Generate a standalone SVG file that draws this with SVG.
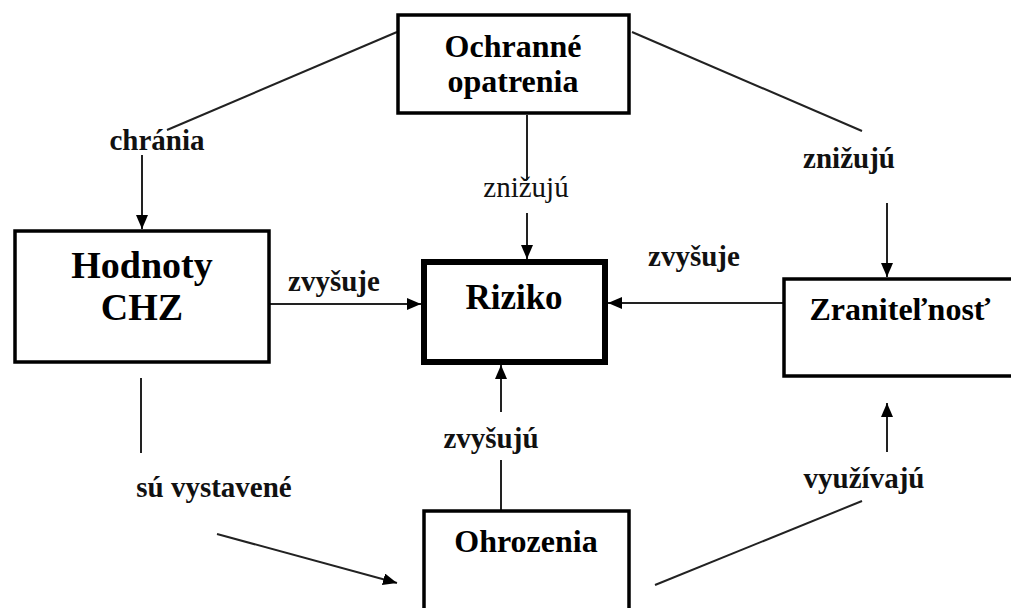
<svg xmlns="http://www.w3.org/2000/svg" width="1011" height="608" viewBox="0 0 1011 608">
<style>
.box{fill:#fff;stroke:#000;stroke-width:3.5}
.thick{stroke-width:6}
.nt{font-family:"Liberation Serif","Times New Roman",serif;font-weight:bold;fill:#000;text-anchor:middle}
.lb{font-family:"Liberation Serif","Times New Roman",serif;font-weight:bold;font-size:29px;fill:#111;text-anchor:middle}
.lr{font-weight:normal}
.ln{stroke:#222;stroke-width:2;fill:none}
</style>
<defs>
<marker id="ah" viewBox="0 0 14 12" refX="14" refY="6" markerWidth="14" markerHeight="12" orient="auto" markerUnits="userSpaceOnUse">
<path d="M0,0 L14,6 L0,12 Z" fill="#000"/>
</marker>
</defs>
<rect width="1011" height="608" fill="#fff"/>
<g id="connectors">
<line class="ln" x1="397" y1="32" x2="167" y2="130"/>
<line class="ln" x1="142" y1="155" x2="142" y2="229" marker-end="url(#ah)"/>
<line class="ln" x1="527" y1="115" x2="527" y2="180"/>
<line class="ln" x1="527" y1="213" x2="527" y2="259" marker-end="url(#ah)"/>
<line class="ln" x1="632" y1="32" x2="862" y2="131"/>
<line class="ln" x1="887" y1="203" x2="887" y2="277" marker-end="url(#ah)"/>
<line class="ln" x1="270" y1="304" x2="421" y2="304" marker-end="url(#ah)"/>
<line class="ln" x1="783" y1="303" x2="608" y2="303" marker-end="url(#ah)"/>
<line class="ln" x1="501" y1="510" x2="501" y2="460"/>
<line class="ln" x1="501" y1="412" x2="501" y2="365" marker-end="url(#ah)"/>
<line class="ln" x1="141" y1="378" x2="141" y2="453"/>
<line class="ln" x1="217" y1="534" x2="397" y2="583" marker-end="url(#ah)"/>
<line class="ln" x1="655" y1="585" x2="862" y2="501"/>
<line class="ln" x1="887" y1="452" x2="887" y2="403" marker-end="url(#ah)"/>
<text class="lb" x="157" y="150">chránia</text>
<text class="lb lr" x="526" y="197">znižujú</text>
<text class="lb" x="849" y="168">znižujú</text>
<text class="lb" x="334" y="291">zvyšuje</text>
<text class="lb" x="694" y="266">zvyšuje</text>
<text class="lb" x="491" y="448">zvyšujú</text>
<text class="lb" x="214" y="497">sú vystavené</text>
<text class="lb" x="864" y="488">využívajú</text>
</g>
<g id="ochranne">
<rect class="box" x="398" y="15" width="231" height="98"/>
<text class="nt" x="513" y="57" font-size="32">Ochranné</text>
<text class="nt" x="513" y="92" font-size="32">opatrenia</text>
</g>
<g id="hodnoty">
<rect class="box" x="15" y="231" width="254" height="131"/>
<text class="nt" x="142" y="278" font-size="38">Hodnoty</text>
<text class="nt" x="142" y="320" font-size="38">CHZ</text>
</g>
<g id="riziko">
<rect class="box thick" x="424" y="262" width="181" height="100"/>
<text class="nt" x="514" y="309" font-size="35">Riziko</text>
</g>
<g id="zranitelnost">
<rect class="box" x="784" y="279" width="240" height="97" stroke-width="3"/>
<text class="nt" x="900" y="320" font-size="32">Zraniteľnosť</text>
</g>
<g id="ohrozenia">
<rect class="box" x="424" y="511" width="205" height="120" stroke-width="3"/>
<text class="nt" x="526" y="552" font-size="32">Ohrozenia</text>
</g>
</svg>
